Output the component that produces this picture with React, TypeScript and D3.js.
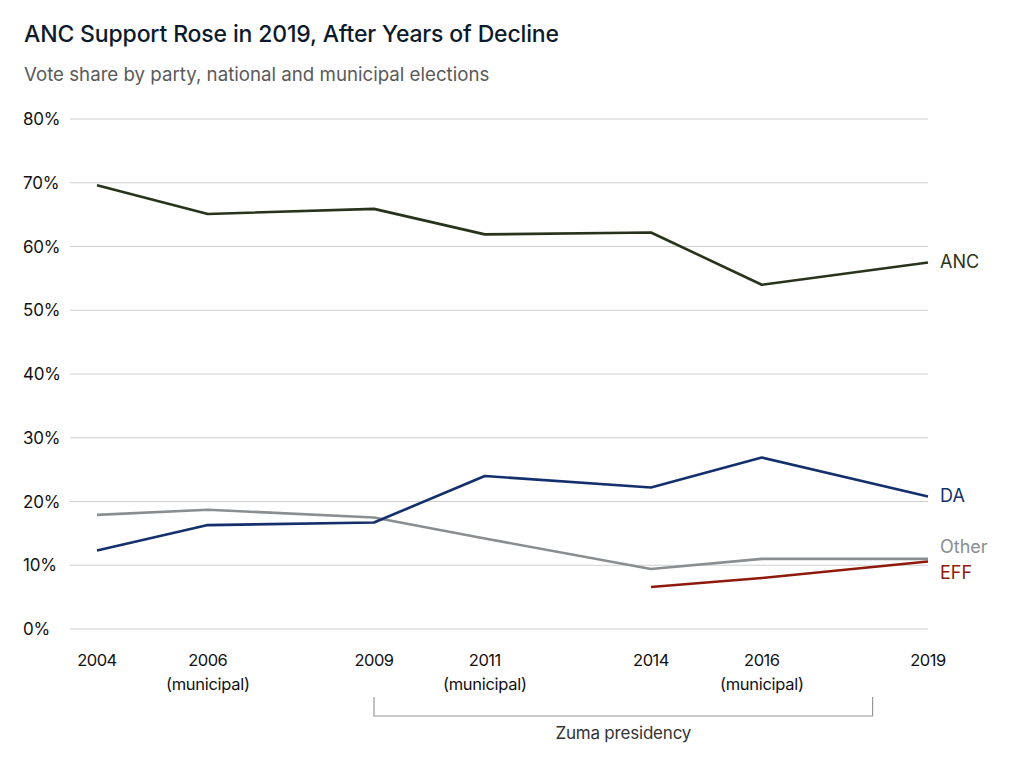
import React, { useEffect, useRef } from 'react';
import * as d3 from 'd3';

const years = [2004, 2006, 2009, 2011, 2014, 2016, 2019];
const yearLabels = ['2004', '2006', '2009', '2011', '2014', '2016', '2019'];
const subLabels = ['', '(municipal)', '', '(municipal)', '', '(municipal)', ''];

const ancValues = [69.6, 65.1, 65.9, 61.9, 62.2, 54.0, 57.5];
const daValues = [12.3, 16.3, 16.7, 24.0, 22.2, 26.9, 20.8];
const otherValues = [17.9, 18.7, 17.5, 14.2, 9.4, 11.0, 11.0];
const effYears = [2014, 2016, 2019];
const effValues = [6.6, 8.0, 10.6];

const yTicks = [0, 10, 20, 30, 40, 50, 60, 70, 80];

const zumaStart = 2009;
const zumaEnd = 2018;

const width = 1024;
const height = 762;

const App: React.FC = () => {
  const svgRef = useRef<SVGSVGElement>(null);

  useEffect(() => {
    if (!svgRef.current) return;
    const svg = d3.select(svgRef.current);
    svg.selectAll('*').remove();

    const font = 'Inter, "Open Sans", sans-serif';

    const x = d3.scaleLinear().domain([2004, 2019]).range([97, 928]);
    const y = d3.scaleLinear().domain([0, 80]).range([629, 119]);

    // title + subtitle
    svg.append('text')
      .attr('x', 24).attr('y', 42)
      .attr('font-family', font).attr('font-size', 23).attr('font-weight', 500)
      .attr('letter-spacing', -0.15)
      .attr('fill', '#0d1a2b')
      .text('ANC Support Rose in 2019, After Years of Decline');

    svg.append('text')
      .attr('x', 24).attr('y', 81)
      .attr('font-family', font).attr('font-size', 18.7)
      .attr('fill', '#5a5a5a')
      .text('Vote share by party, national and municipal elections');

    // gridlines + y labels
    const grid = svg.append('g');
    grid.selectAll('line')
      .data(yTicks)
      .enter()
      .append('line')
      .attr('x1', 70).attr('x2', x(2019))
      .attr('y1', d => y(d)).attr('y2', d => y(d))
      .attr('stroke', '#cfcfcf').attr('stroke-width', 1);

    grid.selectAll('text')
      .data(yTicks)
      .enter()
      .append('text')
      .attr('x', 23).attr('y', d => y(d) + 6)
      .attr('font-family', font).attr('font-size', 17)
      .attr('letter-spacing', -0.2)
      .attr('fill', '#111')
      .text(d => `${d}%`);

    // x labels
    const xl = svg.append('g');
    xl.selectAll('text.yr')
      .data(years)
      .enter()
      .append('text')
      .attr('class', 'yr')
      .attr('x', d => x(d)).attr('y', 666)
      .attr('text-anchor', 'middle')
      .attr('font-family', font).attr('font-size', 16.5).attr('letter-spacing', -0.5)
      .attr('fill', '#111')
      .text((d, i) => yearLabels[i]);

    xl.selectAll('text.sub')
      .data(years)
      .enter()
      .append('text')
      .attr('class', 'sub')
      .attr('x', d => x(d)).attr('y', 690)
      .attr('text-anchor', 'middle')
      .attr('font-family', font).attr('font-size', 16.5).attr('letter-spacing', -0.3)
      .attr('fill', '#111')
      .text((d, i) => subLabels[i]);

    // Zuma bracket
    svg.append('path')
      .attr('d', `M${x(zumaStart)},697 V716 H${x(zumaEnd)} V697`)
      .attr('fill', 'none').attr('stroke', '#999').attr('stroke-width', 1.2);

    svg.append('text')
      .attr('x', (x(zumaStart) + x(zumaEnd)) / 2).attr('y', 739)
      .attr('text-anchor', 'middle')
      .attr('font-family', font).attr('font-size', 17).attr('letter-spacing', -0.2)
      .attr('fill', '#333')
      .text('Zuma presidency');

    const line = d3.line<[number, number]>()
      .x(d => x(d[0]))
      .y(d => y(d[1]));

    const series = [
      { name: 'Other', yrs: years, vals: otherValues, color: '#8a8e90', labelDy: -12 },
      { name: 'EFF', yrs: effYears, vals: effValues, color: '#8e1a0c', labelDy: 12 },
      { name: 'DA', yrs: years, vals: daValues, color: '#14306c', labelDy: 0 },
      { name: 'ANC', yrs: years, vals: ancValues, color: '#27331a', labelDy: 0 },
    ];

    series.forEach(s => {
      const pts = s.yrs.map((yr, i) => [yr, s.vals[i]] as [number, number]);
      svg.append('path')
        .attr('d', line(pts) as string)
        .attr('fill', 'none')
        .attr('stroke', s.color)
        .attr('stroke-width', 2.6)
        .attr('stroke-linejoin', 'round');

      const last = pts[pts.length - 1];
      svg.append('text')
        .attr('x', x(last[0]) + 12)
        .attr('y', y(last[1]) + s.labelDy + 6)
        .attr('font-family', font).attr('font-size', 18)
        .attr('fill', s.color)
        .text(s.name);
    });
  }, []);

  return (
    <svg
      ref={svgRef}
      width={width}
      height={height}
      style={{ position: 'absolute', left: 0, top: 0, background: '#fff' }}
    ></svg>
  );
};

export default App;
